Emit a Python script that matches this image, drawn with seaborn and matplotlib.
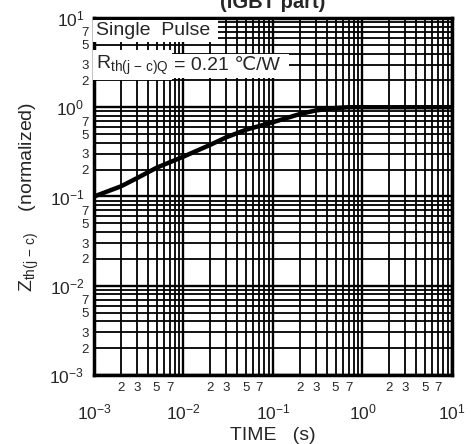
import numpy as np
import pandas as pd
import matplotlib
matplotlib.use("Agg")
import matplotlib.pyplot as plt
import matplotlib.ticker as mticker
import seaborn as sns

sns.set_style("white")
plt.rcParams['font.family'] = ['Liberation Sans', 'DejaVu Sans']
plt.rcParams['mathtext.fontset'] = 'custom'
plt.rcParams['mathtext.rm'] = 'Liberation Sans'
plt.rcParams['mathtext.it'] = 'Liberation Sans'

# transient thermal impedance
time_s = [1e-3, 2e-3, 3e-3, 5e-3, 1e-2, 2e-2, 3e-2, 5e-2, 0.1, 0.2, 0.3, 0.5, 0.7, 1.0, 10.0]
zth_norm = [0.10, 0.13, 0.16, 0.21, 0.28, 0.38, 0.46, 0.56, 0.68, 0.84, 0.92, 0.98, 1.0, 1.0, 1.0]

x_major = [1e-3, 1e-2, 1e-1, 1e0, 1e1]
x_major_labels = ['$10^{-3}$', '$10^{-2}$', '$10^{-1}$', '$10^{0}$', '$10^{1}$']
y_major = [1e-3, 1e-2, 1e-1, 1e0, 1e1]
y_major_labels = ['$10^{-3}$', '$10^{-2}$', '$10^{-1}$', '$10^{0}$', '$10^{1}$']
minor_labeled = [2, 3, 5, 7]

df = pd.DataFrame({'t': time_s, 'z': zth_norm})

fig = plt.figure(figsize=(4.75, 4.44), dpi=100)
ax = fig.add_axes([94 / 475, 69 / 444, 358 / 475, 357 / 444])

sns.lineplot(data=df, x='t', y='z', ax=ax, color='black', linewidth=3.2)
ax.set_xscale('log')
ax.set_yscale('log')
ax.set_xlim(1e-3, 1e1)
ax.set_ylim(1e-3, 1e1)

ax.xaxis.set_major_locator(mticker.FixedLocator(x_major))
ax.yaxis.set_major_locator(mticker.FixedLocator(y_major))
ax.set_xticklabels(x_major_labels)
ax.set_yticklabels(y_major_labels)
ax.xaxis.set_minor_locator(mticker.LogLocator(base=10, subs=np.arange(2, 10), numticks=20))
ax.yaxis.set_minor_locator(mticker.LogLocator(base=10, subs=np.arange(2, 10), numticks=20))


def minor_fmt(v, pos):
    m = int(round(v / 10 ** np.floor(np.log10(v) + 1e-9)))
    return str(m) if m in minor_labeled else ''


ax.xaxis.set_minor_formatter(mticker.FuncFormatter(minor_fmt))
ax.yaxis.set_minor_formatter(mticker.FuncFormatter(minor_fmt))

ax.tick_params(axis='x', which='major', length=0, pad=20, labelsize=12.5)
ax.tick_params(axis='x', which='minor', length=0, pad=5, labelsize=9.5)
ax.tick_params(axis='y', which='major', length=0, pad=7, labelsize=12.5)
ax.tick_params(axis='y', which='minor', length=0, pad=4, labelsize=9.5)

ax.grid(True, which='major', color='black', linewidth=1.7)
ax.grid(True, which='minor', color='black', linewidth=1.3)
for s in ax.spines.values():
    s.set_visible(True)
    s.set_color('black')
    s.set_linewidth(2.5)

ax.set_xlabel('TIME   (s)', fontsize=14, labelpad=3)
ax.set_ylabel(r'Z$_{\mathrm{th(j\,-\,c)}}$    (normalized)', fontsize=14, labelpad=6)

ax.text(0.006, 0.988, 'Single  Pulse ', transform=ax.transAxes, fontsize=14,
        va='top', ha='left', zorder=5,
        bbox=dict(facecolor='white', edgecolor='none', pad=2))
t1 = ax.text(0.006, 0.9, r'R$_{\mathrm{th(j\,-\,c)Q}}$', transform=ax.transAxes,
             fontsize=14, va='top', ha='left', zorder=6,
             bbox=dict(facecolor='white', edgecolor='none', pad=2.5))
ax.annotate('= 0.21 ℃/W ', xy=(1, 0), xycoords=t1, xytext=(4, 2),
            textcoords='offset points', fontsize=14, va='bottom', ha='left', zorder=5,
            bbox=dict(facecolor='white', edgecolor='none', pad=2.5))

# title sits mostly above the frame, as in the scanned original
fig.text(273 / 475, 1 - 8 / 444, '(IGBT part)', ha='center', va='baseline',
         fontsize=14.5, fontweight='bold')

fig.savefig('out.png', dpi=100)
